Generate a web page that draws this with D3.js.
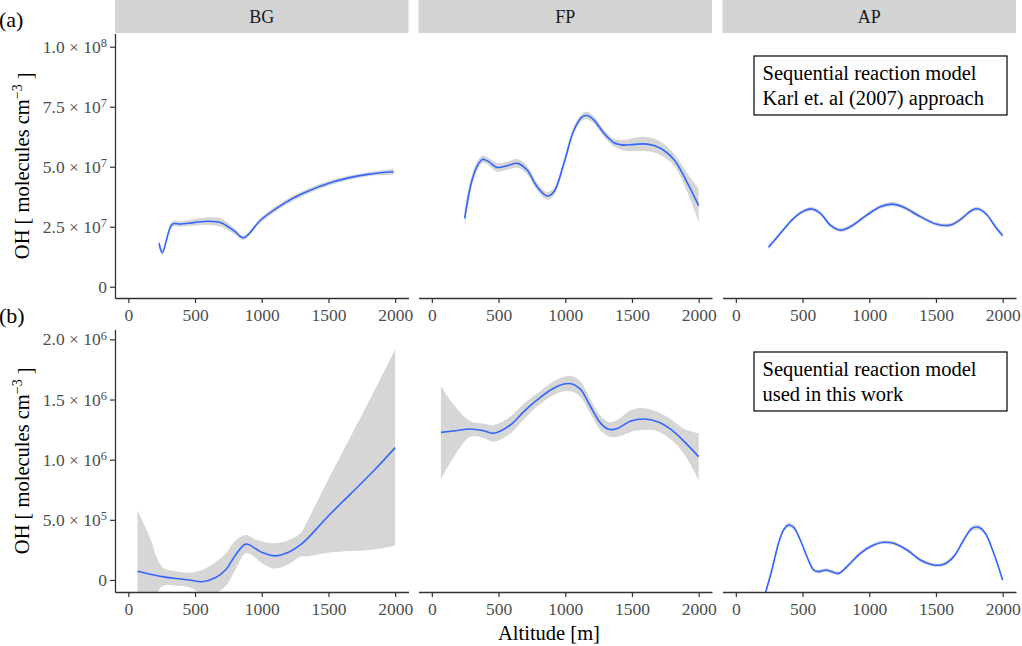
<!DOCTYPE html>
<html>
<head>
<meta charset="utf-8">
<script src="https://cdn.jsdelivr.net/npm/d3@7"></script>
<style>
  body { margin: 0; background: #fff; }
  svg { font-family: "Liberation Serif", "Times New Roman", serif; }
</style>
</head>
<body>
<svg id="chart" width="1022" height="646"></svg>
<script>
// facet names and row labels
var sites = ["BG", "FP", "AP"];
var rowTags = ["(a)", "(b)"];
var boxText = [["Sequential reaction model", "Karl et. al (2007) approach"],
               ["Sequential reaction model", "used in this work"]];

// tick values
var xTicks = [0, 500, 1000, 1500, 2000];
var yTicksTop = [0, 2.5e7, 5e7, 7.5e7, 1e8];
var yTicksBot = [0, 5e5, 1e6, 1.5e6, 2e6];

// (a) Karl et al. approach -- altitude, smooth fit, standard error
var altBGa = [230, 255, 330, 392, 490, 600, 693, 793, 863, 993, 1168, 1293, 1543, 1793, 1989];
var fitBGa = [1.81e7, 1.43e7, 2.61e7, 2.61e7, 2.67e7, 2.73e7, 2.67e7, 2.33e7, 2.04e7, 2.78e7, 3.47e7, 3.85e7, 4.38e7, 4.68e7, 4.79e7];
var seBGa  = [1.8e6, 1.5e6, 1.2e6, 1.1e6, 1.3e6, 1.6e6, 1.7e6, 1.3e6, 0.9e6, 1.0e6, 1.1e6, 1.1e6, 1.0e6, 0.9e6, 1.3e6];

var altFPa = [246, 301, 351, 383, 426, 489, 564, 644, 714, 789, 865, 915, 990, 1065, 1128, 1165, 1215, 1291, 1366, 1441, 1516, 1617, 1717, 1817, 1917, 2000];
var fitFPa = [2.85e7, 4.44e7, 5.14e7, 5.31e7, 5.21e7, 4.97e7, 5.04e7, 5.14e7, 4.86e7, 4.17e7, 3.78e7, 3.96e7, 5.14e7, 6.53e7, 7.08e7, 7.13e7, 6.94e7, 6.39e7, 6.0e7, 5.9e7, 5.93e7, 5.94e7, 5.76e7, 5.28e7, 4.31e7, 3.38e7];
var seFPa  = [4e6, 2.5e6, 1.8e6, 1.6e6, 1.5e6, 1.8e6, 1.7e6, 1.8e6, 1.7e6, 1.6e6, 1.6e6, 1.6e6, 1.6e6, 1.6e6, 1.5e6, 1.6e6, 1.5e6, 1.5e6, 1.6e6, 2.2e6, 2.8e6, 3.0e6, 2.8e6, 2.5e6, 4e6, 7e6];

var altAPa = [245, 333, 433, 508, 570, 633, 708, 783, 858, 983, 1083, 1170, 1258, 1383, 1508, 1608, 1695, 1770, 1820, 1883, 1945, 2000];
var fitAPa = [1.64e7, 2.22e7, 2.85e7, 3.15e7, 3.24e7, 3.06e7, 2.57e7, 2.36e7, 2.5e7, 2.99e7, 3.33e7, 3.44e7, 3.31e7, 2.92e7, 2.6e7, 2.57e7, 2.85e7, 3.19e7, 3.24e7, 2.99e7, 2.5e7, 2.13e7];
var seAPa  = [1.0e6, 0.8e6, 0.8e6, 0.8e6, 0.9e6, 0.8e6, 0.8e6, 0.8e6, 0.8e6, 0.8e6, 0.8e6, 0.9e6, 0.8e6, 0.8e6, 0.8e6, 0.8e6, 0.8e6, 0.8e6, 0.8e6, 0.8e6, 0.8e6, 1.0e6];

// (b) model used in this work
var altBGb = [68, 155, 255, 355, 455, 555, 655, 730, 805, 880, 955, 1000, 1100, 1200, 1294, 1344, 1494, 1670, 1845, 2000];
var fitBGb = [7.2e4, 5.0e4, 2.8e4, 1.2e4, 0, -1.5e4, 2e4, 8.5e4, 2.1e5, 2.98e5, 2.6e5, 2.3e5, 2.0e5, 2.3e5, 2.95e5, 3.46e5, 5.26e5, 7.2e5, 9.14e5, 1.1e6];
var seBGb  = [5.1e5, 3.2e5, 8e4, 6e4, 6e4, 1.0e5, 1.3e5, 1.35e5, 1.2e5, 7.6e4, 7.6e4, 9e4, 1.05e5, 1.0e5, 1.0e5, 1.5e5, 3.0e5, 4.8e5, 6.6e5, 8.15e5];

var altFPb = [68, 162, 288, 388, 464, 589, 689, 789, 890, 990, 1053, 1115, 1190, 1266, 1328, 1391, 1491, 1591, 1692, 1792, 1892, 2000];
var fitFPb = [1.227e6, 1.238e6, 1.255e6, 1.241e6, 1.219e6, 1.288e6, 1.399e6, 1.496e6, 1.579e6, 1.629e6, 1.629e6, 1.584e6, 1.44e6, 1.302e6, 1.252e6, 1.26e6, 1.321e6, 1.338e6, 1.316e6, 1.252e6, 1.15e6, 1.025e6];
var seFPb  = [3.9e5, 2.2e5, 6.5e4, 6e4, 7e4, 7e4, 6.5e4, 5.5e4, 5.5e4, 6e4, 6.5e4, 6.5e4, 6e4, 6e4, 6e4, 7e4, 9e4, 9e4, 8e4, 8.5e4, 1.05e5, 1.94e5];

var altAPb = [220, 270, 320, 358, 395, 433, 483, 533, 583, 620, 678, 720, 770, 833, 933, 1033, 1108, 1183, 1283, 1383, 1483, 1558, 1633, 1708, 1770, 1820, 1870, 1933, 2000];
var fitAPb = [-1.15e5, 8.3e4, 3.05e5, 4.16e5, 4.57e5, 4.38e5, 3.32e5, 1.94e5, 8.3e4, 6.9e4, 8.3e4, 6.9e4, 5.5e4, 1.11e5, 2.22e5, 2.91e5, 3.13e5, 3.05e5, 2.49e5, 1.66e5, 1.25e5, 1.3e5, 1.94e5, 3.32e5, 4.29e5, 4.38e5, 3.88e5, 2.22e5, 0];
var seAPb  = [2e4, 2e4, 2e4, 2e4, 2e4, 2e4, 1.5e4, 1.5e4, 1.5e4, 1.5e4, 1.5e4, 1.5e4, 1.5e4, 1.5e4, 1.5e4, 1.5e4, 1.5e4, 1.5e4, 1.5e4, 1.5e4, 1.5e4, 1.5e4, 1.5e4, 1.5e4, 2e4, 2e4, 1.5e4, 1.5e4, 2e4];

var series = [
  [[altBGa, fitBGa, seBGa], [altFPa, fitFPa, seFPa], [altAPa, fitAPa, seAPa]],
  [[altBGb, fitBGb, seBGb], [altFPb, fitFPb, seFPb], [altAPb, fitAPb, seAPb]]
];

// layout
var colX = [115, 418.5, 722.5], panelW = 293.5;
var rows = [
  {top: 33.5, bottom: 298, domain: [-4.7e6, 1.055e8], ticks: yTicksTop},
  {top: 329.5, bottom: 592, domain: [-1.0e5, 2.082e6], ticks: yTicksBot}
];

var svg = d3.select("#chart");
var defs = svg.append("defs");

function addSci(textSel) { // turn plain tick text into "m × 10^e"
  textSel.each(function(v) {
    var t = d3.select(this);
    t.text(null);
    if (v === 0) { t.text("0"); return; }
    var e = Math.floor(Math.log10(v) + 1e-9);
    var m = v / Math.pow(10, e);
    t.append("tspan").text(m.toFixed(1) + " \u00d7 10");
    t.append("tspan").attr("dy", "-0.45em").style("font-size", "12.5px").text(e);
  });
}

rows.forEach(function(row, r) {
  var y = d3.scaleLinear().domain(row.domain).range([row.bottom, row.top]);

  sites.forEach(function(site, c) {
    var x = d3.scaleLinear().domain([-100, 2100]).range([colX[c], colX[c] + panelW]);
    var s = series[r][c];
    var pts = s[0].map(function(a, i) { return {x: a, y: s[1][i], se: s[2][i]}; });

    var clipId = "clip" + r + c;
    defs.append("clipPath").attr("id", clipId)
      .append("rect")
      .attr("x", colX[c]).attr("y", row.top)
      .attr("width", panelW).attr("height", row.bottom - row.top);

    var g = svg.append("g").attr("clip-path", "url(#" + clipId + ")");

    var area = d3.area()
      .x(function(d) { return x(d.x); })
      .y0(function(d) { return y(d.y - d.se); })
      .y1(function(d) { return y(d.y + d.se); })
      .curve(d3.curveCatmullRom.alpha(0.5));
    var line = d3.line()
      .x(function(d) { return x(d.x); })
      .y(function(d) { return y(d.y); })
      .curve(d3.curveCatmullRom.alpha(0.5));

    g.append("path").datum(pts).attr("d", area).attr("fill", "#d6d6d6");
    g.append("path").datum(pts).attr("d", line)
      .attr("fill", "none").attr("stroke", "#3366ff").attr("stroke-width", 1.6);

    // x axis on every panel
    var xa = svg.append("g")
      .attr("transform", "translate(0," + row.bottom + ")")
      .call(d3.axisBottom(x).tickValues(xTicks).tickFormat(d3.format("d"))
        .tickSize(5).tickSizeOuter(0).tickPadding(6));
    xa.select(".domain").attr("stroke", "#333").attr("stroke-width", 1.3);
    xa.selectAll(".tick line").attr("stroke", "#333").attr("stroke-width", 1.2);
    xa.selectAll(".tick text").attr("fill", "#4d4d4d").style("font-size", "17.5px")
      .style("font-family", "Liberation Serif");

    // y axis only on first column
    if (c === 0) {
      var ya = svg.append("g")
        .attr("transform", "translate(" + colX[c] + ",0)")
        .call(d3.axisLeft(y).tickValues(row.ticks).tickSize(5).tickSizeOuter(0).tickPadding(3));
      ya.select(".domain").attr("stroke", "#333").attr("stroke-width", 1.3);
      ya.selectAll(".tick line").attr("stroke", "#333").attr("stroke-width", 1.2);
      ya.selectAll(".tick text").attr("fill", "#4d4d4d").style("font-size", "17.5px")
        .style("font-family", "Liberation Serif").call(addSci);
    }

    // strips only on top row
    if (r === 0) {
      svg.append("rect")
        .attr("x", colX[c]).attr("y", 0)
        .attr("width", panelW).attr("height", 33)
        .attr("fill", "#d4d4d4");
      svg.append("text")
        .attr("x", colX[c] + panelW / 2).attr("y", 23)
        .attr("text-anchor", "middle")
        .attr("fill", "#1a1a1a").style("font-size", "18px")
        .text(site);
    }
  });

  // annotation box in the AP panel
  var bx = colX[2] + 31.5, by = row.top + 22.5;
  svg.append("rect")
    .attr("x", bx).attr("y", by).attr("width", 253).attr("height", 59)
    .attr("fill", "#fff").attr("stroke", "#000").attr("stroke-width", 1.2);
  boxText[r].forEach(function(t, i) {
    svg.append("text")
      .attr("x", bx + 8.5).attr("y", by + 24 + i * 24.5)
      .style("font-size", "20.5px").attr("fill", "#000")
      .text(t);
  });

  // y title
  var cy = (row.top + row.bottom) / 2;
  var yt = svg.append("text")
    .attr("transform", "translate(29," + cy + ") rotate(-90)")
    .attr("text-anchor", "middle")
    .style("font-size", "20.5px").attr("fill", "#000");
  yt.append("tspan").text("OH [ molecules cm");
  yt.append("tspan").attr("dy", "-0.5em").style("font-size", "14px").text("\u22123");
  yt.append("tspan").attr("dy", "0.5em").text(" ]");

  // row tag
  svg.append("text")
    .attr("x", -1).attr("y", r === 0 ? 27 : 323)
    .style("font-size", "22px").attr("fill", "#000")
    .text(rowTags[r]);
});

// x title
svg.append("text")
  .attr("x", 549).attr("y", 640)
  .attr("text-anchor", "middle")
  .style("font-size", "20.5px").attr("fill", "#000")
  .text("Altitude [m]");
</script>
</body>
</html>
